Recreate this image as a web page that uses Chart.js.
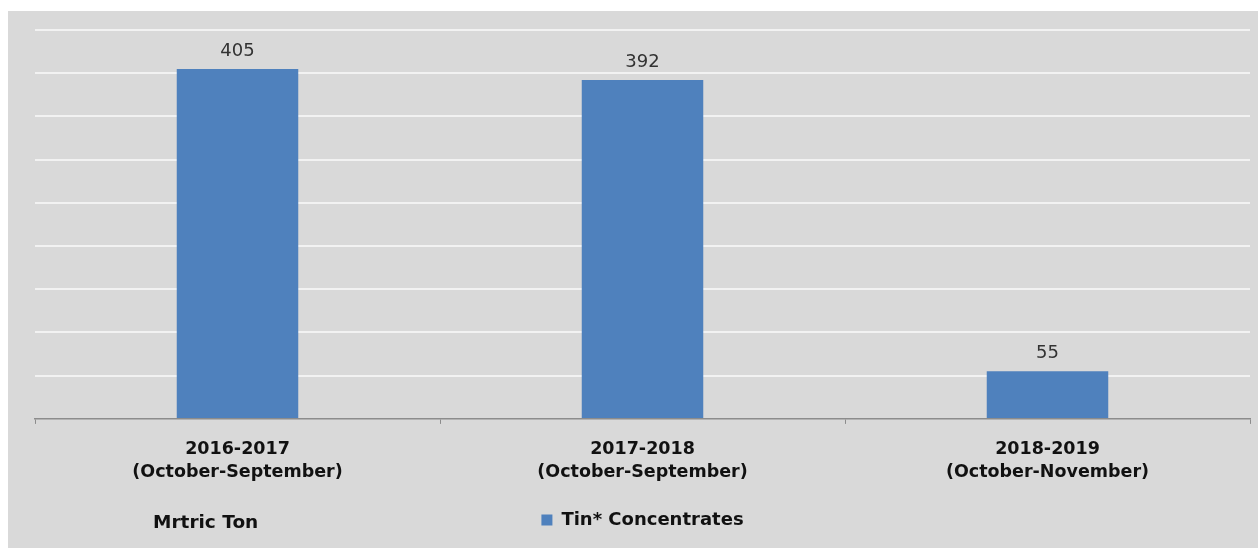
<!DOCTYPE html>
<html>
<head>
<meta charset="utf-8">
<script src="https://cdn.jsdelivr.net/npm/chart.js@4.4.0/dist/chart.umd.min.js"></script>
<style>
  html, body { margin: 0; padding: 0; background: #fff; }
  #wrap { width: 1258px; height: 548px; }
</style>
</head>
<body>
<div id="wrap"><canvas id="tinChart" width="1258" height="548"></canvas></div>
<script>
const categories = [
  ['2016-2017', '(October-September)'],
  ['2017-2018', '(October-September)'],
  ['2018-2019', '(October-November)']
];
const tinValues = [405, 392, 55];
const seriesName = 'Tin* Concentrates';
const unitNote = 'Mrtric Ton';
const yMax = 450;
const yStep = 50;

const fontFamily = '"DejaVu Sans", "Liberation Sans", Arial, sans-serif';

// grey panel behind the chart
const panelBg = {
  id: 'panelBg',
  beforeDraw(chart) {
    const c = chart.ctx;
    c.save();
    c.fillStyle = '#d9d9d9';
    c.fillRect(8, 11, chart.width - 8, chart.height - 11);
    c.restore();
  }
};

// numbers above the bars + unit note at the bottom left
const valueLabels = {
  id: 'valueLabels',
  afterDatasetsDraw(chart) {
    const c = chart.ctx;
    const meta = chart.getDatasetMeta(0);
    c.save();
    c.font = '18px ' + fontFamily;
    c.fillStyle = '#333';
    c.textAlign = 'center';
    c.textBaseline = 'middle';
    meta.data.forEach((bar, i) => {
      c.fillText(String(tinValues[i]), bar.x, bar.y - 18);
    });
    c.font = 'bold 18.5px ' + fontFamily;
    c.fillStyle = '#111';
    c.textAlign = 'left';
    c.fillText(unitNote, 153, 523);
    c.restore();
  }
};

new Chart(document.getElementById('tinChart'), {
  type: 'bar',
  data: {
    labels: categories,
    datasets: [{
      label: seriesName,
      data: tinValues,
      backgroundColor: '#4f81bd',
      categoryPercentage: 1,
      barPercentage: 0.3
    }]
  },
  options: {
    responsive: false,
    devicePixelRatio: 1,
    animation: false,
    layout: { padding: { left: 35, right: 8, top: 30, bottom: 9 } },
    plugins: {
      legend: {
        position: 'bottom',
        labels: {
          boxWidth: 11,
          boxHeight: 11,
          padding: 13,
          color: '#111',
          font: { family: fontFamily, size: 18, weight: 'bold' }
        }
      },
      tooltip: { enabled: false }
    },
    scales: {
      x: {
        grid: {
          offset: true,
          drawOnChartArea: false,
          drawTicks: true,
          tickLength: 5,
          color: '#8c8c8c'
        },
        border: { color: '#8c8c8c', width: 1.5 },
        ticks: {
          padding: 15,
          color: '#111',
          maxRotation: 0,
          font: { family: fontFamily, size: 17.5, weight: 'bold', lineHeight: 1.26 }
        }
      },
      y: {
        min: 0,
        max: yMax,
        ticks: { stepSize: yStep, display: false },
        border: { display: false },
        grid: {
          drawTicks: false,
          lineWidth: 2,
          color: ctx => (ctx.tick && ctx.tick.value === 0) ? 'rgba(0,0,0,0)' : '#f2f2f2'
        }
      }
    }
  },
  plugins: [panelBg, valueLabels]
});
</script>
</body>
</html>
